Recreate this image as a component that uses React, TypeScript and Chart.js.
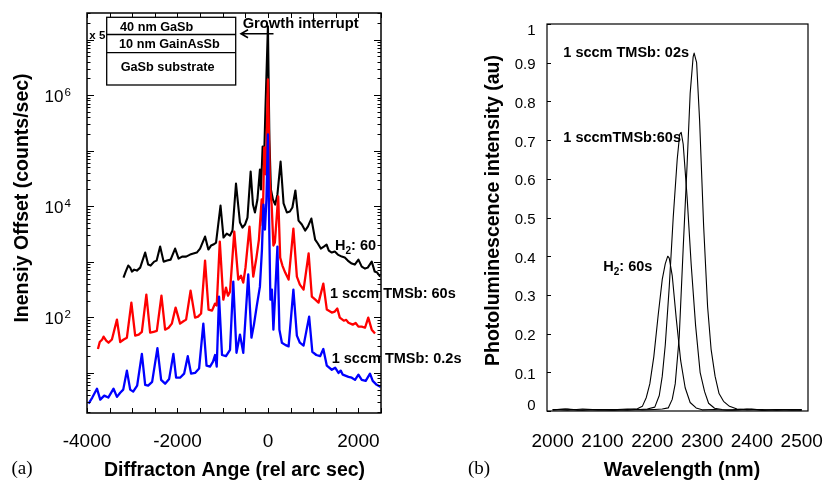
import React, { useEffect, useRef } from 'react';
import { Chart, registerables } from 'chart.js';

Chart.register(...registerables);

// ---------- (a) XRD rocking curves ----------
const xrdXTicks = [-4000, -3500, -3000, -2500, -2000, -1500, -1000, -500, 0, 500, 1000, 1500, 2000, 2500];
const xrdXLabels = [-4000, -2000, 0, 2000];
const xrdYLabelExps = [2, 4, 6];

const blueX = [-3965, -3883, -3780, -3707, -3619, -3530, -3413, -3338, -3266, -3199, -3118, -3045, -2979, -2891, -2787, -2714, -2648, -2560, -2443, -2361, -2273, -2184, -2090, -2030, -1942, -1853, -1772, -1699, -1611, -1522, -1428, -1357, -1280, -1214, -1169, -1132, -1081, -1015, -927, -838, -766, -695, -618, -545, -435, -364, -309, -249, -177, -132, -99, -66, -33, 0, 33, 55, 88, 121, 154, 210, 254, 309, 382, 457, 563, 640, 706, 788, 911, 982, 1070, 1154, 1225, 1302, 1412, 1486, 1560, 1610, 1655, 1781, 1853, 1926, 2001, 2074, 2162, 2257, 2317, 2405, 2493];
const blueY = [2.8, 3.6, 5.2, 3.3, 3.9, 3.6, 5.2, 3.7, 4.4, 5.0, 11, 5.0, 4.6, 5.9, 22, 6.1, 5.9, 6.9, 28, 7.5, 6.4, 7.8, 22, 8.2, 8.2, 9.7, 20, 9.7, 10, 12, 77, 13.5, 13, 16, 21, 13, 236, 21, 20, 26, 440, 23, 49, 23, 590, 43, 74, 156, 357, 1660, 10700, 3800, 13200, 196000, 2500, 208, 316, 60, 208, 1880, 60, 35, 32, 30, 316, 47, 35, 31, 103, 24, 21, 20, 27, 13.5, 11.4, 12.4, 10, 11, 9.3, 8.5, 8.2, 7.5, 9.3, 7.5, 7.2, 9.7, 7.2, 6.1, 5.6];

const redX = [-3758, -3718, -3663, -3634, -3575, -3524, -3449, -3338, -3266, -3188, -3118, -3019, -2935, -2857, -2787, -2688, -2604, -2526, -2456, -2354, -2273, -2196, -2125, -2041, -1942, -1876, -1809, -1710, -1611, -1545, -1478, -1390, -1313, -1236, -1169, -1132, -1064, -986, -927, -883, -838, -744, -655, -596, -545, -496, -408, -324, -254, -199, -139, -115, -82, -44, 0, 44, 82, 121, 154, 227, 271, 320, 382, 457, 563, 640, 706, 788, 900, 971, 1048, 1119, 1225, 1302, 1412, 1478, 1534, 1589, 1677, 1730, 1781, 1876, 1940, 2001, 2074, 2147, 2218, 2295, 2368];
const redY = [27, 36, 40, 45, 38, 35, 40, 91, 36, 40, 43, 184, 47, 49, 55, 256, 53, 55, 57, 246, 60, 65, 77, 150, 77, 84, 91, 303, 99, 103, 117, 1050, 138, 132, 177, 163, 2310, 208, 343, 246, 290, 3500, 478, 564, 422, 785, 4300, 541, 1190, 2510, 13200, 4490, 114000, 37300, 1920000, 24600, 10700, 1960, 2220, 15000, 1190, 855, 639, 478, 3960, 541, 388, 316, 1410, 236, 208, 184, 405, 138, 122, 127, 144, 99, 87, 90, 80, 74, 79, 68, 68, 65, 99, 60, 51];

const blackX = [-3193, -3144, -3089, -3045, -3007, -2957, -2897, -2824, -2714, -2648, -2593, -2515, -2460, -2383, -2306, -2229, -2151, -2052, -1975, -1898, -1809, -1721, -1648, -1573, -1500, -1390, -1317, -1258, -1207, -1147, -1048, -982, -911, -838, -783, -706, -618, -563, -507, -452, -382, -331, -287, -232, -177, -154, -117, -88, -55, 0, 33, 66, 110, 161, 210, 280, 346, 419, 485, 541, 607, 677, 750, 823, 883, 960, 1044, 1103, 1169, 1236, 1297, 1346, 1412, 1478, 1545, 1633, 1699, 1765, 1853, 1920, 2001, 2074, 2147, 2207, 2295, 2361, 2416, 2482];
const blackY = [519, 666, 855, 785, 666, 723, 694, 785, 1466, 890, 855, 1007, 1050, 1880, 1007, 1050, 1094, 1730, 1140, 1240, 1240, 1349, 1406, 1466, 1730, 2844, 1660, 1960, 2042, 2220, 10300, 2730, 3220, 2966, 3650, 25600, 5080, 4130, 4680, 6250, 42200, 10700, 7710, 13200, 45800, 20000, 119000, 56400, 552000, 17300000, 159000, 20000, 13200, 10700, 16300, 63800, 11200, 7710, 8040, 9480, 19200, 5520, 4680, 3650, 4300, 6000, 2510, 2130, 1730, 1880, 2042, 1590, 1466, 1528, 1349, 1240, 1190, 1050, 927, 890, 1094, 819, 754, 785, 1007, 666, 639, 541];

// ---------- (b) photoluminescence ----------
const plXLabels = [2000, 2100, 2200, 2300, 2400, 2500];
const plYTicks = [0, 0.1, 0.2, 0.3, 0.4, 0.5, 0.6, 0.7, 0.8, 0.9, 1];
const plYLabels = ['0', '0.1', '0.2', '0.3', '0.4', '0.5', '0.6', '0.7', '0.8', '0.9', '1'];

const h2X = [2000, 2025, 2050, 2075, 2100, 2125, 2150, 2170, 2180, 2188, 2195, 2203, 2212, 2220, 2226, 2231, 2234, 2240, 2248, 2257, 2266, 2276, 2288, 2300, 2325, 2350, 2375, 2400, 2425, 2450, 2475, 2500];
const h2Y = [0.003, 0.005, 0.002, 0.004, 0.003, 0.002, 0.004, 0.006, 0.012, 0.035, 0.07, 0.14, 0.25, 0.34, 0.38, 0.40, 0.395, 0.35, 0.24, 0.13, 0.06, 0.022, 0.008, 0.003, 0.004, 0.002, 0.003, 0.005, 0.002, 0.004, 0.003, 0.002];

const t60X = [2000, 2030, 2060, 2090, 2120, 2150, 2175, 2190, 2205, 2214, 2220, 2226, 2234, 2242, 2250, 2255, 2258, 2262, 2270, 2278, 2287, 2296, 2305, 2313, 2325, 2340, 2360, 2390, 2420, 2450, 2480, 2500];
const t60Y = [0.004, 0.002, 0.005, 0.003, 0.004, 0.002, 0.004, 0.005, 0.01, 0.04, 0.09, 0.17, 0.32, 0.50, 0.65, 0.715, 0.72, 0.69, 0.55, 0.38, 0.22, 0.10, 0.05, 0.02, 0.007, 0.004, 0.003, 0.005, 0.002, 0.004, 0.003, 0.004];

const t02X = [2000, 2030, 2060, 2090, 2120, 2150, 2180, 2205, 2220, 2232, 2240, 2246, 2254, 2262, 2270, 2276, 2282, 2284, 2289, 2295, 2303, 2311, 2318, 2326, 2334, 2343, 2355, 2370, 2390, 2420, 2450, 2480, 2500];
const t02Y = [0.003, 0.005, 0.002, 0.004, 0.003, 0.005, 0.003, 0.004, 0.005, 0.008, 0.03, 0.07, 0.19, 0.42, 0.64, 0.82, 0.915, 0.925, 0.90, 0.75, 0.48, 0.27, 0.16, 0.09, 0.045, 0.025, 0.012, 0.005, 0.003, 0.004, 0.002, 0.004, 0.003];

const SANS = '"Liberation Sans", Arial, Helvetica, sans-serif';
const SERIF = '"Liberation Serif", "Times New Roman", serif';

const pts = (xs: number[], ys: number[]) => xs.map((x, i) => ({ x, y: ys[i] }));

function text(ctx: CanvasRenderingContext2D, s: string, x: number, y: number, font: string, align: CanvasTextAlign = 'left') {
  ctx.font = font;
  ctx.textAlign = align;
  ctx.textBaseline = 'alphabetic';
  ctx.fillStyle = '#000';
  ctx.fillText(s, x, y);
}

// H<sub>2</sub> + rest
function h2Text(ctx: CanvasRenderingContext2D, rest: string, x: number, y: number, size: number) {
  const f = `bold ${size}px ${SANS}`;
  const fs = `bold ${Math.round(size * 0.68)}px ${SANS}`;
  ctx.font = f;
  const wH = ctx.measureText('H').width;
  text(ctx, 'H', x, y, f);
  ctx.font = fs;
  const w2 = ctx.measureText('2').width;
  text(ctx, '2', x + wH, y + 4, fs);
  text(ctx, rest, x + wH + w2, y, f);
}

const leftDecor = {
  id: 'leftDecor',
  afterDraw(chart: any) {
    const { ctx, chartArea: a, scales } = chart;
    const xs = scales.x;
    const ys = scales.y;
    ctx.save();
    ctx.strokeStyle = '#000';
    ctx.lineWidth = 1;
    ctx.beginPath();
    for (const v of xrdXTicks) {
      const px = Math.round(xs.getPixelForValue(v)) + 0.5;
      ctx.moveTo(px, a.bottom);
      ctx.lineTo(px, a.bottom - 5);
      ctx.moveTo(px, a.top);
      ctx.lineTo(px, a.top + 5);
    }
    for (let e = 0; e <= 7; e++) {
      for (let k = 1; k <= 9; k++) {
        const v = k * Math.pow(10, e);
        if (v < ys.min || v > ys.max) continue;
        const py = Math.round(ys.getPixelForValue(v)) + 0.5;
        const len = k === 1 ? 7 : 3.5;
        ctx.moveTo(a.left, py);
        ctx.lineTo(a.left + len, py);
        ctx.moveTo(a.right, py);
        ctx.lineTo(a.right - len, py);
      }
    }
    ctx.stroke();
    ctx.lineWidth = 1.5;
    ctx.strokeRect(a.left, a.top, a.right - a.left, a.bottom - a.top);

    // tick labels
    for (const v of xrdXLabels) {
      text(ctx, String(v), xs.getPixelForValue(v), 447, `19px ${SANS}`, 'center');
    }
    for (const e of xrdYLabelExps) {
      const py = ys.getPixelForValue(Math.pow(10, e));
      text(ctx, '10', 63.5, py + 6.5, `17px ${SANS}`, 'right');
      text(ctx, String(e), 64.5, py + 0.5, `11.5px ${SANS}`, 'left');
    }

    // axis titles
    text(ctx, 'Diffracton Ange (rel arc sec)', 234.5, 475.5, `bold 19.5px ${SANS}`, 'center');
    ctx.save();
    ctx.translate(27.8, 198);
    ctx.rotate(-Math.PI / 2);
    text(ctx, 'Inensiy Offset (counts/sec)', 0, 0, `bold 19.5px ${SANS}`, 'center');
    ctx.restore();
    text(ctx, '(a)', 11.5, 474, `19px ${SERIF}`, 'left');

    // inset layer stack
    ctx.fillStyle = '#fff';
    ctx.lineWidth = 1.3;
    ctx.strokeStyle = '#000';
    ctx.fillRect(106.7, 17.3, 129, 67.7);
    ctx.strokeRect(106.7, 17.3, 129, 67.7);
    ctx.beginPath();
    ctx.moveTo(106.7, 34.5);
    ctx.lineTo(235.7, 34.5);
    ctx.moveTo(106.7, 52.7);
    ctx.lineTo(235.7, 52.7);
    ctx.stroke();
    text(ctx, '40 nm GaSb', 120, 31.4, `bold 12.7px ${SANS}`);
    text(ctx, '10 nm GainAsSb', 119, 48, `bold 12.7px ${SANS}`);
    text(ctx, 'GaSb substrate', 120.7, 71.4, `bold 12.7px ${SANS}`);
    text(ctx, 'x 5', 89.3, 39.3, `bold 11.5px ${SANS}`);

    // growth interrupt arrow
    text(ctx, 'Growth interrupt', 242.7, 28.3, `bold 14.7px ${SANS}`);
    ctx.lineWidth = 1.6;
    ctx.beginPath();
    ctx.moveTo(241, 33.8);
    ctx.lineTo(273.5, 33.8);
    ctx.moveTo(248, 29.8);
    ctx.lineTo(241, 33.8);
    ctx.lineTo(248, 37.8);
    ctx.stroke();

    // curve labels
    h2Text(ctx, ': 60', 335, 249.5, 14.5);
    text(ctx, '1 sccm TMSb: 60s', 330, 298, `bold 14.5px ${SANS}`);
    text(ctx, '1 sccm TMSb: 0.2s', 331.7, 363, `bold 14.5px ${SANS}`);
    ctx.restore();
  },
};

const RX = 455; // page x of the right canvas

const rightDecor = {
  id: 'rightDecor',
  afterDraw(chart: any) {
    const { ctx, chartArea: a, scales } = chart;
    const xs = scales.x;
    const ys = scales.y;
    ctx.save();
    ctx.strokeStyle = '#000';
    ctx.lineWidth = 1.2;
    ctx.strokeRect(a.left, a.top, a.right - a.left, a.bottom - a.top);
    ctx.lineWidth = 1;
    ctx.beginPath();
    plYTicks.forEach((v) => {
      const py = Math.round(ys.getPixelForValue(v)) + 0.5;
      ctx.moveTo(a.left, py);
      ctx.lineTo(a.left + 4, py);
    });
    ctx.stroke();

    plYTicks.forEach((v, i) => {
      const py = ys.getPixelForValue(v);
      const cy = Math.min(Math.max(py + 1, a.top + 6), a.bottom - 6);
      text(ctx, plYLabels[i], 535.5 - RX, cy + 5.4, `15px ${SANS}`, 'right');
    });
    for (const v of plXLabels) {
      text(ctx, String(v), xs.getPixelForValue(v), 446.8, `19px ${SANS}`, 'center');
    }

    text(ctx, 'Wavelength (nm)', 682 - RX, 475.8, `bold 19.5px ${SANS}`, 'center');
    ctx.save();
    ctx.translate(498.8 - RX, 210.5);
    ctx.rotate(-Math.PI / 2);
    text(ctx, 'Photoluminescence intensity (au)', 0, 0, `bold 19.5px ${SANS}`, 'center');
    ctx.restore();
    text(ctx, '(b)', 468 - RX, 474, `19px ${SERIF}`, 'left');

    text(ctx, '1 sccm TMSb: 02s', 563.3 - RX, 57, `bold 14.5px ${SANS}`);
    text(ctx, '1 sccmTMSb:60s', 563.3 - RX, 142, `bold 14.5px ${SANS}`);
    h2Text(ctx, ': 60s', 603.3 - RX, 271, 14.5);
    ctx.restore();
  },
};

export default function App() {
  const leftRef = useRef<HTMLCanvasElement | null>(null);
  const rightRef = useRef<HTMLCanvasElement | null>(null);

  useEffect(() => {
    const line = { pointRadius: 0, tension: 0, borderJoinStyle: 'round' as const, fill: false };
    const left = new Chart(leftRef.current as HTMLCanvasElement, {
      type: 'line',
      data: {
        datasets: [
          { label: '1 sccm TMSb: 0.2s', data: pts(blueX, blueY), borderColor: '#0000ff', borderWidth: 2.3, ...line },
          { label: '1 sccm TMSb: 60s', data: pts(redX, redY), borderColor: '#ff0000', borderWidth: 2.3, ...line },
          { label: 'H2: 60', data: pts(blackX, blackY), borderColor: '#000000', borderWidth: 2.1, ...line },
        ],
      },
      options: {
        responsive: false,
        animation: false,
        events: [],
        layout: { padding: { left: 87, right: 89, top: 13, bottom: 69 } },
        plugins: { legend: { display: false }, tooltip: { enabled: false } },
        scales: {
          x: { type: 'linear', min: -4000, max: 2500, display: false },
          y: { type: 'logarithmic', min: 1.9, max: 3e7, display: false },
        },
      },
      plugins: [leftDecor],
    } as any);

    const right = new Chart(rightRef.current as HTMLCanvasElement, {
      type: 'line',
      data: {
        datasets: [
          { label: 'H2: 60s', data: pts(h2X, h2Y), borderColor: '#000', borderWidth: 1.1, ...line },
          { label: '1 sccmTMSb:60s', data: pts(t60X, t60Y), borderColor: '#000', borderWidth: 1.1, ...line },
          { label: '1 sccm TMSb: 02s', data: pts(t02X, t02Y), borderColor: '#000', borderWidth: 1.1, ...line },
        ],
      },
      options: {
        responsive: false,
        animation: false,
        events: [],
        layout: { padding: { left: 92, right: 22, top: 24, bottom: 71 } },
        plugins: { legend: { display: false }, tooltip: { enabled: false } },
        scales: {
          x: { type: 'linear', min: 1988.6, max: 2512.6, display: false },
          y: { type: 'linear', min: 0, max: 1, display: false },
        },
      },
      plugins: [rightDecor],
    } as any);

    return () => {
      left.destroy();
      right.destroy();
    };
  }, []);

  return (
    <div style={{ position: 'absolute', left: 0, top: 0, width: 830, height: 482, background: '#fff', overflow: 'hidden' }}>
      <canvas ref={leftRef} width={470} height={482} style={{ position: 'absolute', left: 0, top: 0, width: 470, height: 482 }} />
      <canvas ref={rightRef} width={375} height={482} style={{ position: 'absolute', left: RX, top: 0, width: 375, height: 482 }} />
    </div>
  );
}
